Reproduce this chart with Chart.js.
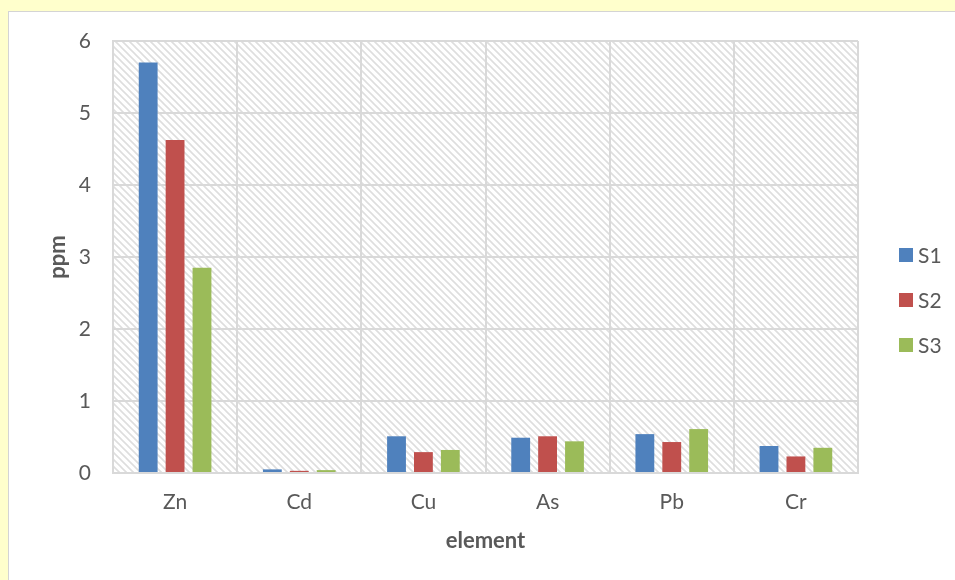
<!DOCTYPE html>
<html>
<head>
<meta charset="utf-8">
<script src="https://cdn.jsdelivr.net/npm/chart.js@4/dist/chart.umd.min.js"></script>
<style>
  html, body { margin: 0; padding: 0; background: #FFFFCC; width: 955px; height: 580px; overflow: hidden; }
  #panel {
    position: absolute; left: 8px; top: 11px; width: 946px; height: 568px;
    background: #ffffff; border-top: 1px solid #d4d4d4; border-left: 1px solid #d4d4d4;
  }
  canvas { display: block; }
</style>
</head>
<body>
<div id="panel"><canvas id="chart" width="946" height="568"></canvas></div>
<script>
// Element concentrations (ppm) for three samples
const elements = ['Zn', 'Cd', 'Cu', 'As', 'Pb', 'Cr'];
const seriesNames = ['S1', 'S2', 'S3'];
const s1 = [5.70, 0.05, 0.51, 0.49, 0.54, 0.375];
const s2 = [4.625, 0.03, 0.29, 0.51, 0.43, 0.23];
const s3 = [2.85, 0.04, 0.32, 0.44, 0.61, 0.35];
const seriesColors = ['#4F81BD', '#C0504D', '#9BBB59'];

const FONT = 'Lato, "Liberation Sans", sans-serif';
const TEXT = '#595959';
const GRID = '#d9d9d9';

// Diagonal hatch used behind the plot area
function makeHatch() {
  const size = 7;
  const c = document.createElement('canvas');
  c.width = size; c.height = size;
  const g = c.getContext('2d');
  g.fillStyle = '#ffffff';
  g.fillRect(0, 0, size, size);
  g.strokeStyle = '#dedede';
  g.lineWidth = 1.6;
  g.beginPath();
  g.moveTo(-1, -1); g.lineTo(size + 1, size + 1);
  g.moveTo(-1, size - 1); g.lineTo(1, size + 1);
  g.moveTo(size - 1, -1); g.lineTo(size + 1, 1);
  g.stroke();
  return c;
}

const plotBackground = {
  id: 'plotBackground',
  beforeDraw(chart) {
    const { ctx, chartArea: a } = chart;
    ctx.save();
    ctx.fillStyle = ctx.createPattern(makeHatch(), 'repeat');
    ctx.fillRect(a.left, a.top, a.right - a.left, a.bottom - a.top);
    ctx.restore();
  }
};

// Vertical legend on the right side
const sideLegend = {
  id: 'sideLegend',
  afterDraw(chart) {
    const { ctx, chartArea: a } = chart;
    const mid = chart.height / 2 + 4;
    const step = 45;
    const n = chart.data.datasets.length;
    ctx.save();
    ctx.font = '21px ' + FONT;
    ctx.textBaseline = 'middle';
    ctx.textAlign = 'left';
    chart.data.datasets.forEach((ds, i) => {
      const y = mid + (i - (n - 1) / 2) * step;
      const x = a.right + 41;
      ctx.fillStyle = ds.backgroundColor;
      ctx.fillRect(x, y - 7, 14, 14);
      ctx.fillStyle = TEXT;
      ctx.fillText(ds.label, x + 19, y + 1);
    });
    ctx.restore();
  }
};

const datasets = [s1, s2, s3].map((vals, i) => ({
  label: seriesNames[i],
  data: vals,
  backgroundColor: seriesColors[i],
  borderWidth: 0,
  categoryPercentage: 0.65,
  barPercentage: 0.70
}));

new Chart(document.getElementById('chart'), {
  type: 'bar',
  data: { labels: elements, datasets },
  options: {
    responsive: false,
    animation: false,
    devicePixelRatio: 1,
    layout: { padding: { top: 29, right: 97, left: 0, bottom: 0 } },
    plugins: {
      legend: { display: false },
      tooltip: { enabled: false }
    },
    scales: {
      x: {
        grid: { color: GRID, lineWidth: 2, drawTicks: false, offset: true },
        border: { color: GRID, width: 2 },
        ticks: { color: TEXT, font: { family: FONT, size: 21 }, padding: 17 },
        title: { display: true, text: 'element', color: TEXT, font: { family: FONT, size: 22, weight: 'bold' }, padding: { top: 0, bottom: 26 } },
        afterFit(scale) { scale.height = 107; }
      },
      y: {
        min: 0, max: 6,
        ticks: { stepSize: 1, color: TEXT, font: { family: FONT, size: 21 }, padding: 22 },
        grid: { color: GRID, lineWidth: 2, drawTicks: false },
        border: { color: GRID, width: 2 },
        title: { display: true, text: 'ppm', color: TEXT, font: { family: FONT, size: 22, weight: 'bold' }, padding: { top: 36, bottom: 0 } },
        afterFit(scale) {
          scale.width = 104;
          // tick padding should not push the plot area down
          scale.paddingTop = 0;
          scale.paddingBottom = 0;
        }
      }
    }
  },
  plugins: [plotBackground, sideLegend]
});
</script>
</body>
</html>
